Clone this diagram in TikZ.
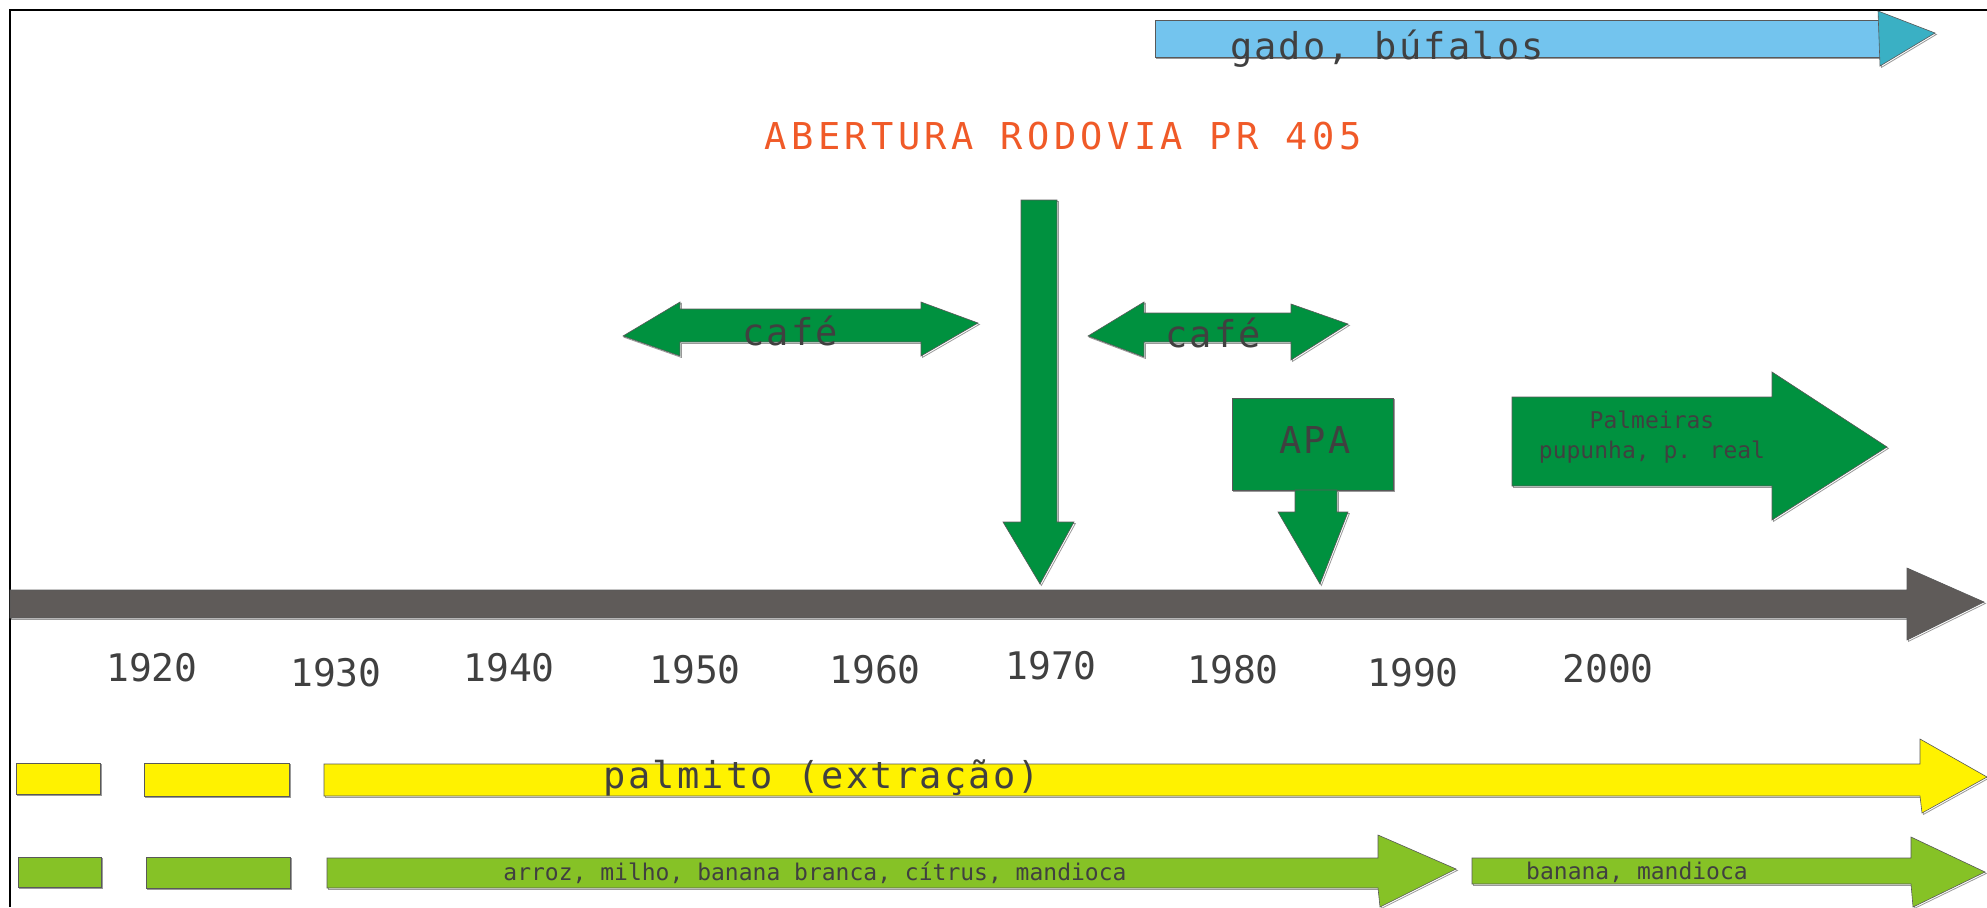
\documentclass[tikz,border=0pt]{standalone}
\usepackage{fontspec}
\newfontfamily\cadfont{DejaVu Sans Mono}
\newfontfamily\cadwide[LetterSpace=6]{DejaVu Sans Mono}
\usetikzlibrary{shadows}

\definecolor{mata}{RGB}{0,145,63}
\definecolor{roca}{RGB}{134,194,38}
\definecolor{palmitoY}{RGB}{255,242,0}
\definecolor{ceu}{RGB}{115,196,238}
\definecolor{ceuhead}{RGB}{58,176,196}
\definecolor{eixo}{RGB}{95,91,89}
\definecolor{estrada}{RGB}{240,90,40}

\begin{document}
\begin{tikzpicture}[x=0.5pt,y=-0.5pt,
    every node/.style={inner sep=0pt,text=black!75}]
  \tikzstyle{rim}=[draw=black!65,line width=0.3pt,
    drop shadow={shadow xshift=0.7pt,shadow yshift=-0.7pt,fill=none,draw=black!40,opacity=1}]
  \tikzstyle{barGreen}=[rim,fill=mata]
  \tikzstyle{barLime}=[rim,fill=roca]
  \tikzstyle{barYellow}=[rim,fill=palmitoY]
  \tikzstyle{barBlue}=[rim,fill=ceu]
  \tikzstyle{headBlue}=[rim,fill=ceuhead]
  \tikzstyle{barAxis}=[rim,fill=eixo]
  \tikzstyle{txtBig}=[font={\cadwide\fontsize{18.5}{22}\selectfont}]
  \tikzstyle{txtSmall}=[font={\cadfont\fontsize{11.5}{15}\selectfont},align=center]
  \tikzstyle{txtYear}=[font={\cadfont\fontsize{19}{22}\selectfont}]

  \fill[white] (0,0) rectangle (1987,907);
  \useasboundingbox (0,0) rectangle (1987,907);
  \draw[line width=1.4pt] (10,907) -- (10,10) -- (1987,10);

  % gado
  \path[barBlue] (1155,20) rectangle (1880,57);
  \path[headBlue] (1878,11) -- (1935,33) -- (1880,66) -- cycle;

  % rodovia
  \path[barGreen] (1021,200) -- (1057,200) -- (1057,522) -- (1074,522) -- (1040,584)
    -- (1003,522) -- (1021,522) -- cycle;

  % cafe
  \path[barGreen] (623,336) -- (680,302) -- (680,309) -- (921,309) -- (921,302) -- (978,323)
    -- (921,356) -- (921,342) -- (680,342) -- (680,356) -- cycle;
  \path[barGreen] (1088,336) -- (1144,302) -- (1144,313) -- (1291,313) -- (1291,304) -- (1348,324)
    -- (1291,360) -- (1291,342) -- (1144,342) -- (1144,357) -- cycle;

  % APA
  \path[barGreen] (1232,398) rectangle (1393,490);
  \path[barGreen] (1295,490) -- (1337,490) -- (1337,512) -- (1348,512) -- (1320,584)
    -- (1278,512) -- (1295,512) -- cycle;

  % palmeiras
  \path[barGreen] (1512,397) -- (1772,397) -- (1772,372) -- (1887,447) -- (1772,520)
    -- (1772,486) -- (1512,486) -- cycle;

  % eixo do tempo
  \path[barAxis] (10,590) -- (1907,590) -- (1907,568) -- (1984,602) -- (1907,640)
    -- (1907,618) -- (10,618) -- cycle;

  % palmito
  \path[barYellow] (16,763) rectangle (100,794);
  \path[barYellow] (144,763) rectangle (289,796);
  \path[barYellow] (324,764) -- (1920,764) -- (1920,739) -- (1987,777) -- (1922,813)
    -- (1920,796) -- (324,796) -- cycle;

  % lavoura
  \path[barLime] (18,857) rectangle (101,887);
  \path[barLime] (146,857) rectangle (290,888);
  \path[barLime] (327,858) -- (1378,858) -- (1378,835) -- (1456,869) -- (1380,907)
    -- (1378,888) -- (327,888) -- cycle;
  \path[barLime] (1472,858) -- (1911,858) -- (1911,837) -- (1985,872) -- (1913,907)
    -- (1911,884) -- (1472,884) -- cycle;

  \node[txtBig] (gado) at (1387,49) {gado, búfalos};
  \node[txtBig,text=estrada] (rodovia) at (1063,136)
    {\addfontfeature{LetterSpace=12}ABERTURA RODOVIA PR 405};
  \node[txtBig] (cafeA) at (790,331) {café};
  \node[txtBig] (cafeB) at (1213,333) {café};
  \node[txtBig] (apa) at (1315,440) {APA};
  \node[txtSmall] (palmeiras) at (1652,437) {Palmeiras\\pupunha, p. real};

  \foreach \ano/\px/\py in {1920/152/668, 1930/336/673, 1940/509/668, 1950/695/670,
      1960/875/670, 1970/1051/666, 1980/1233/670, 1990/1413/673, 2000/1608/669}
    \node[txtYear] (ano\ano) at (\px,\py) {\ano};

  \node[txtBig] (palmito) at (822,778) {palmito (extração)};
  \node[txtSmall] (arroz) at (815,873) {arroz, milho, banana branca, cítrus, mandioca};
  \node[txtSmall] (banana) at (1637,872) {banana, mandioca};
\end{tikzpicture}
\end{document}
